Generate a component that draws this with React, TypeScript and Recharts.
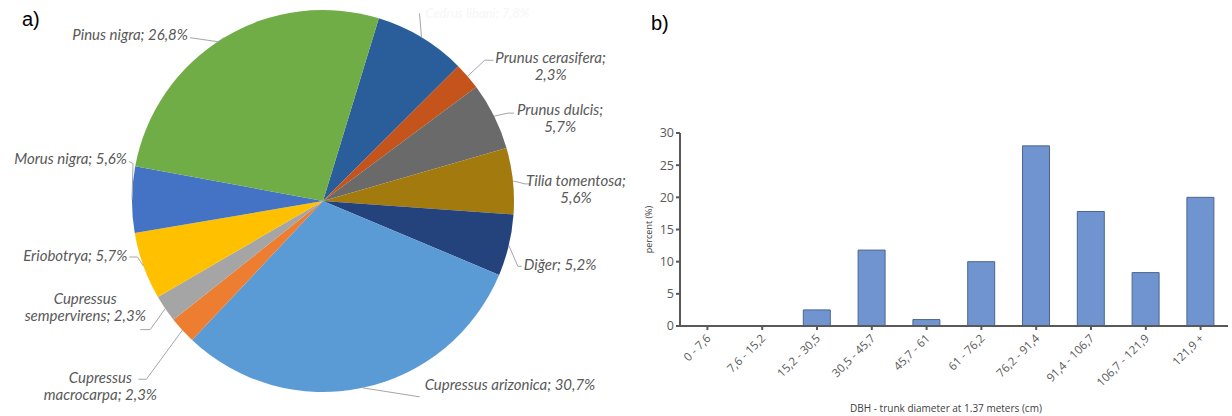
import { PieChart, Pie, Cell, BarChart, Bar, XAxis, YAxis } from 'recharts'

// ---------------------------------------------------------------------------
// Data
// ---------------------------------------------------------------------------

// a) species share, clockwise starting at the dark blue slice near 12 o'clock
const speciesNames = [
  'Cedrus libani',
  'Prunus cerasifera',
  'Prunus dulcis',
  'Tilia tomentosa',
  'Diğer',
  'Cupressus arizonica',
  'Cupressus macrocarpa',
  'Cupressus sempervirens',
  'Eriobotrya',
  'Morus nigra',
  'Pinus nigra',
]
const speciesShares = [7.8, 2.3, 5.7, 5.6, 5.2, 30.7, 2.3, 2.3, 5.7, 5.6, 26.8]

// b) DBH classes
const dbhClasses = [
  '0 - 7,6',
  '7,6 - 15,2',
  '15,2 - 30,5',
  '30,5 - 45,7',
  '45,7 - 61',
  '61 - 76,2',
  '76,2 - 91,4',
  '91,4 - 106,7',
  '106,7 - 121,9',
  '121,9 +',
]
const dbhPercent = [0, 0, 2.5, 11.8, 1, 10, 28, 17.8, 8.3, 20]
const percentTicks = [0, 5, 10, 15, 20, 25, 30]

// ---------------------------------------------------------------------------
// Styling / layout (kept apart from the data)
// ---------------------------------------------------------------------------

const SLICE_COLORS = [
  '#2a5e9a',
  '#c4531c',
  '#6a6a6a',
  '#a37a0e',
  '#24437c',
  '#5b9bd5',
  '#ed7d31',
  '#a5a5a5',
  '#ffc000',
  '#4472c4',
  '#70ad47',
]

type LabelLayout = {
  elbow: [number, number]
  end: [number, number]
  text: [number, number]
  align: 'start' | 'middle' | 'end'
  wrap: 0 | 1 | 2 // 0 one line, 1 break after "name;", 2 break after genus
  fill?: string
  size?: number
}

// offsets relative to the point where the slice's mid-angle meets the rim
const LABEL_LAYOUT: LabelLayout[] = [
  { elbow: [-2, -24], end: [-2, -24], text: [4, -19], align: 'start', wrap: 0, fill: '#f6f6f6', size: 13 },
  { elbow: [17, -16], end: [26, -16], text: [83, -13], align: 'middle', wrap: 1 },
  { elbow: [14, -3], end: [20, -3], text: [66, -1], align: 'middle', wrap: 1 },
  { elbow: [12, 3], end: [18, 3], text: [63, 5], align: 'middle', wrap: 1 },
  { elbow: [9, 21], end: [13, 21], text: [15, 25], align: 'start', wrap: 0 },
  { elbow: [57, 9], end: [57, 9], text: [62, 2], align: 'start', wrap: 0 },
  { elbow: [-36, 49], end: [-44, 49], text: [-82, 53], align: 'middle', wrap: 2 },
  { elbow: [-15, 21], end: [-25, 21], text: [-80, -5], align: 'middle', wrap: 2 },
  { elbow: [-6, -9], end: [-14, -9], text: [-16, -5], align: 'end', wrap: 0 },
  { elbow: [1, -36], end: [-3, -38], text: [-5, -36], align: 'end', wrap: 0 },
  { elbow: [-6, 4], end: [-34, 0], text: [-36, 2], align: 'end', wrap: 0 },
]

const RAD = Math.PI / 180
const fmtPct = (v: number) => `${String(v).replace('.', ',')}%`

const pieData = speciesNames.map((name, i) => ({ name, value: speciesShares[i] }))
const barData = dbhClasses.map((range, i) => ({ range, percent: dbhPercent[i] }))

// ---------------------------------------------------------------------------
// Pie labels with leader lines
// ---------------------------------------------------------------------------

function SpeciesLabel(props: any) {
  const { cx, cy, midAngle, outerRadius, index, name, value } = props
  const lay = LABEL_LAYOUT[index]
  const ax = cx + outerRadius * Math.cos(-midAngle * RAD)
  const ay = cy + outerRadius * Math.sin(-midAngle * RAD)

  let lines = [`${name}; ${fmtPct(value)}`]
  if (lay.wrap === 1) lines = [`${name};`, fmtPct(value)]
  if (lay.wrap === 2) {
    const [genus, ...rest] = name.split(' ')
    lines = [genus, `${rest.join(' ')}; ${fmtPct(value)}`]
  }

  const tx = ax + lay.text[0]
  const ty = ay + lay.text[1]
  return (
    <g>
      <polyline
        points={`${ax},${ay} ${ax + lay.elbow[0]},${ay + lay.elbow[1]} ${ax + lay.end[0]},${ay + lay.end[1]}`}
        fill="none"
        stroke="#a6a6a6"
        strokeWidth={1}
      />
      <text
        x={tx}
        y={ty}
        textAnchor={lay.align}
        fontFamily="Lato, 'Noto Sans', sans-serif"
        fontStyle="italic"
        fontSize={lay.size ?? 15}
        fill={lay.fill ?? '#595959'}
      >
        {lines.map((l, i) => (
          <tspan key={i} x={tx} dy={i === 0 ? 0 : 17}>
            {l}
          </tspan>
        ))}
      </text>
    </g>
  )
}

// ---------------------------------------------------------------------------
// Bar chart ticks / titles
// ---------------------------------------------------------------------------

function RangeTick({ x, y, payload }: any) {
  const px = x + 4
  const py = y + 7
  return (
    <text
      x={px}
      y={py}
      transform={`rotate(-45, ${px}, ${py})`}
      textAnchor="end"
      fontFamily="'Open Sans', sans-serif"
      fontSize={11.5}
      fill="#595959"
    >
      {payload.value}
    </text>
  )
}

function PercentTitle({ viewBox }: any) {
  const x = viewBox.x + 8
  const y = viewBox.y + viewBox.height / 2
  return (
    <text
      x={x}
      y={y}
      transform={`rotate(-90, ${x}, ${y})`}
      textAnchor="middle"
      dominantBaseline="central"
      fontFamily="'Open Sans', sans-serif"
      fontSize={9}
      fill="#404040"
    >
      percent  (%)
    </text>
  )
}

const panelTag: React.CSSProperties = {
  position: 'absolute',
  fontFamily: "'Liberation Sans', Arial, sans-serif",
  fontSize: 20,
  color: '#000',
}

// ---------------------------------------------------------------------------
// App
// ---------------------------------------------------------------------------

export default function App() {
  return (
    <div style={{ position: 'absolute', left: 0, top: 0, width: 1232, height: 416, background: '#fff', overflow: 'hidden' }}>
      <div style={{ ...panelTag, left: 22, top: 8 }}>a)</div>
      <div style={{ ...panelTag, left: 651, top: 12 }}>b)</div>

      <div style={{ position: 'absolute', left: 0, top: 0 }}>
        <PieChart width={630} height={416}>
          <Pie
            data={pieData}
            dataKey="value"
            nameKey="name"
            cx={318}
            cy={196}
            outerRadius={191}
            startAngle={73}
            endAngle={-287}
            stroke="none"
            label={SpeciesLabel}
            labelLine={false}
            isAnimationActive={false}
          >
            {pieData.map((_, i) => (
              <Cell key={i} fill={SLICE_COLORS[i]} />
            ))}
          </Pie>
        </PieChart>
      </div>

      <div style={{ position: 'absolute', left: 640, top: 0 }}>
        <BarChart
          width={592}
          height={416}
          data={barData}
          margin={{ top: 133, right: 4, bottom: 4, left: 0 }}
          barCategoryGap="25%"
        >
          <XAxis
            dataKey="range"
            interval={0}
            height={86}
            tick={<RangeTick />}
            tickSize={4}
            tickLine={{ stroke: '#595959', strokeWidth: 2 }}
            axisLine={{ stroke: '#595959', strokeWidth: 2 }}
            label={{
              value: 'DBH - trunk diameter at 1.37 meters (cm)',
              position: 'insideBottom',
              offset: 0,
              dx: -8,
              fontSize: 10,
              fontFamily: "'Open Sans', sans-serif",
              fill: '#404040',
            }}
          />
          <YAxis
            domain={[0, 30]}
            ticks={percentTicks}
            width={40}
            tickSize={4}
            tickLine={{ stroke: '#595959', strokeWidth: 2 }}
            axisLine={{ stroke: '#595959', strokeWidth: 2 }}
            tick={{ fontSize: 12.5, fontFamily: "'Open Sans', sans-serif", fill: '#595959' }}
            label={PercentTitle}
          />
          <Bar dataKey="percent" fill="#7094cf" stroke="#4c6690" strokeWidth={1} isAnimationActive={false} />
        </BarChart>
      </div>
    </div>
  )
}
